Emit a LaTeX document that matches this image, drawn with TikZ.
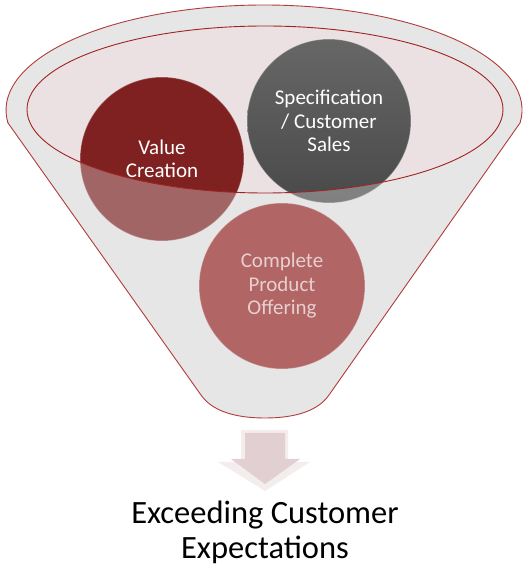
\documentclass[tikz,border=0pt]{standalone}
\usepackage{fontspec}
\setmainfont{Carlito}
\usetikzlibrary{positioning}
\definecolor{funnelgray}{RGB}{230,230,230}
\definecolor{rimred}{RGB}{178,60,60}
\definecolor{openred}{RGB}{160,35,35}
\definecolor{openpink}{RGB}{235,225,226}
\definecolor{valuered}{RGB}{127,33,33}
\definecolor{specgray}{RGB}{86,86,86}
\definecolor{offerred}{RGB}{150,32,32}
\definecolor{offertext}{RGB}{232,196,196}
\definecolor{arrowpink}{RGB}{226,207,209}
\definecolor{arrowlight}{RGB}{244,237,238}

\begin{document}
\begin{tikzpicture}[x=1pt, y=1pt,
		ball/.style={circle, minimum size=164pt, inner sep=0pt, align=center, draw=white, draw opacity=0.35, line width=1pt,
			font=\fontsize{21}{23.5}\selectfont},
		rim/.style={line width=0.9pt}]
	\useasboundingbox (0,0) rectangle (530,571);
	% Eckpunkte des Trichters
	\coordinate (topleft) at (7.9,448.2);
	\coordinate (topright) at (520.1,448.2);
	\coordinate (lowleft) at (201,176);
	\coordinate (lowright) at (329,176);
	\coordinate (bottom) at (265,153);
	\coordinate (opening) at (265,461.5);
	% Trichter (Hintergrund)
	\fill[funnelgray] (topleft) -- (lowleft) .. controls (212,160) and (235,153) .. (bottom)
		.. controls (295,153) and (318,160) .. (lowright) -- (topright)
		arc[start angle=-7, end angle=187, x radius=258, y radius=105] -- cycle;
	\fill[openpink] (opening) ellipse [x radius=238, y radius=83.5];
	% Kugeln
	\node[ball, fill=valuered, text=white] (value) at (162,412) {Value\\Creation};
	\node[ball, top color=specgray!90!white, bottom color=specgray!85!black, text=white] (spec) at (329,450)
		{Specification\\/ Customer\\Sales};
	\node[ball, fill=offerred, text=offertext, minimum size=166pt] (offer) at (282,285) {Complete\\Product\\Offering};
	% Trichter (halbtransparent, mit Oeffnung)
	\fill[funnelgray, fill opacity=0.35, even odd rule] (topleft) -- (lowleft) .. controls (212,160) and (235,153) .. (bottom)
		.. controls (295,153) and (318,160) .. (lowright) -- (topright)
		arc[start angle=-7, end angle=187, x radius=258, y radius=105] -- cycle
		(opening) ellipse [x radius=238, y radius=83.5];
	% Raender
	\draw[rimred, rim] (topleft) -- (lowleft) .. controls (212,160) and (235,153) .. (bottom)
		.. controls (295,153) and (318,160) .. (lowright) -- (topright)
		arc[start angle=-7, end angle=187, x radius=258, y radius=105] -- cycle;
	\draw[openred, rim] (opening) ellipse [x radius=238, y radius=83.5];
	% Pfeil nach unten
	\coordinate (tip) at (265,80);
	\fill[arrowlight] (241,141) -- (288,141) -- (288,109) -- (310,109) -- (tip) -- (218,109) -- (241,109) -- cycle;
	\fill[arrowpink] (245,138) -- (285,138) -- (285,112) -- (300,112) -- (265,87) -- (231,112) -- (245,112) -- cycle;
	% Ergebnis
	\node[font=\fontsize{32.5}{35.5}\selectfont, align=center] (goal) at (265,38.5) {Exceeding Customer\\Expectations};
\end{tikzpicture}
\end{document}
